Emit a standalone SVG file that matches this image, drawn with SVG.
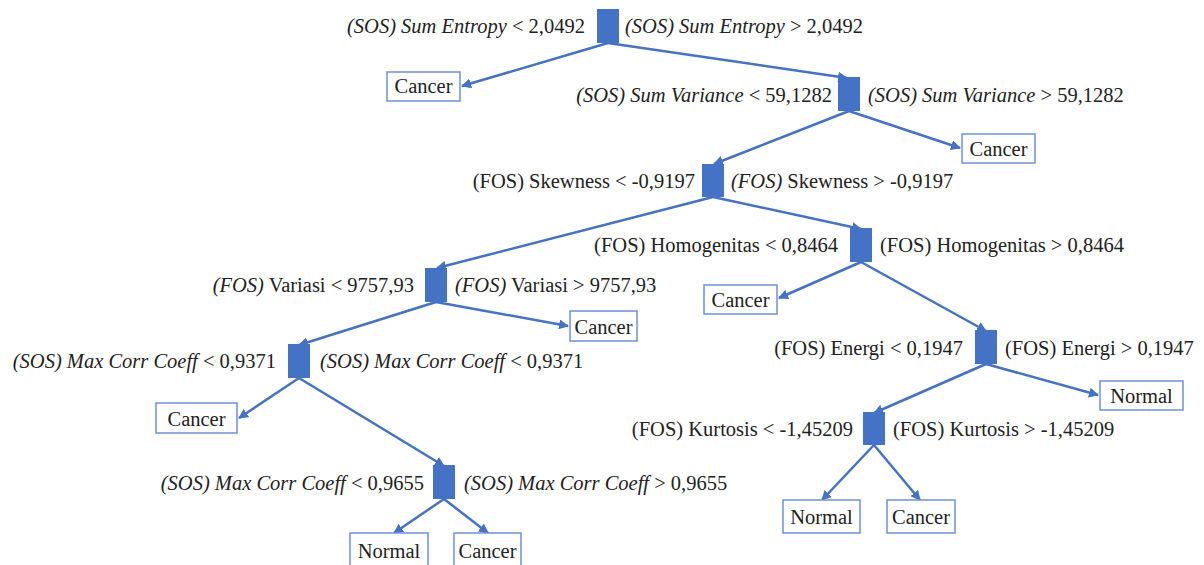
<svg xmlns="http://www.w3.org/2000/svg" width="1204" height="565" viewBox="0 0 1204 565">
<defs>
<marker id="ah" viewBox="0 0 10 10" refX="9" refY="5" markerWidth="4" markerHeight="4" orient="auto" markerUnits="strokeWidth">
<path d="M0,0 L10,5 L0,10 z" fill="#4472C4"/>
</marker>
<style>
.sq{fill:#4472C4}
.bx{fill:#fff;stroke:#6D93D6;stroke-width:1.5}
.t{font-family:"Times New Roman","Liberation Serif","DejaVu Serif",serif;font-size:20.5px;fill:#222}
.i{font-style:italic}
.c{stroke:#4472C4;stroke-width:2.5;fill:none;marker-end:url(#ah)}
</style>
</defs>
<rect width="1204" height="565" fill="#fff"/>
<g id="connectors">
<line class="c" x1="608" y1="43" x2="462" y2="86"/>
<line class="c" x1="608" y1="43" x2="847" y2="78"/>
<line class="c" x1="849" y1="111" x2="714" y2="164"/>
<line class="c" x1="849" y1="111" x2="960" y2="148"/>
<line class="c" x1="713" y1="197" x2="437" y2="268"/>
<line class="c" x1="713" y1="197" x2="861" y2="229"/>
<line class="c" x1="861" y1="262" x2="779" y2="298"/>
<line class="c" x1="861" y1="262" x2="986" y2="331"/>
<line class="c" x1="436" y1="302" x2="299" y2="345"/>
<line class="c" x1="436" y1="302" x2="568" y2="326"/>
<line class="c" x1="986" y1="364" x2="874" y2="413"/>
<line class="c" x1="986" y1="364" x2="1098" y2="395"/>
<line class="c" x1="299" y1="378" x2="239" y2="418"/>
<line class="c" x1="299" y1="378" x2="444" y2="466"/>
<line class="c" x1="444" y1="499" x2="394" y2="533"/>
<line class="c" x1="444" y1="499" x2="488" y2="533"/>
<line class="c" x1="874" y1="445" x2="822" y2="500"/>
<line class="c" x1="874" y1="445" x2="920" y2="500"/>
</g>
<g id="n-sumentropy">
<rect class="sq" x="597" y="9" width="22" height="34"/>
<text class="t" x="585" y="33" text-anchor="end"><tspan class="i">(SOS) Sum Entropy</tspan> &lt; 2,0492</text>
<text class="t" x="625" y="33"><tspan class="i">(SOS) Sum Entropy</tspan> &gt; 2,0492</text>
</g>
<g id="n-cancer1">
<rect class="bx" x="387" y="72" width="73" height="29"/>
<text class="t" x="423.5" y="93" text-anchor="middle">Cancer</text>
</g>
<g id="n-sumvariance">
<rect class="sq" x="838" y="77" width="22" height="34"/>
<text class="t" x="832" y="102" text-anchor="end"><tspan class="i">(SOS) Sum Variance</tspan> &lt; 59,1282</text>
<text class="t" x="868" y="102"><tspan class="i">(SOS) Sum Variance</tspan> &gt; 59,1282</text>
</g>
<g id="n-cancer2">
<rect class="bx" x="962" y="134" width="73" height="29"/>
<text class="t" x="998.5" y="156" text-anchor="middle">Cancer</text>
</g>
<g id="n-skewness">
<rect class="sq" x="702" y="164" width="22" height="33"/>
<text class="t" x="695" y="188" text-anchor="end">(FOS) Skewness &lt; -0,9197</text>
<text class="t" x="731" y="188"><tspan class="i">(FOS)</tspan> Skewness &gt; -0,9197</text>
</g>
<g id="n-homogenitas">
<rect class="sq" x="850" y="228" width="22" height="34"/>
<text class="t" x="838" y="252" text-anchor="end">(FOS) Homogenitas &lt; 0,8464</text>
<text class="t" x="880" y="252">(FOS) Homogenitas &gt; 0,8464</text>
</g>
<g id="n-cancer3">
<rect class="bx" x="704" y="285" width="73" height="29"/>
<text class="t" x="740.5" y="307" text-anchor="middle">Cancer</text>
</g>
<g id="n-variasi">
<rect class="sq" x="425" y="268" width="22" height="34"/>
<text class="t" x="414" y="292" text-anchor="end"><tspan class="i">(FOS)</tspan> Variasi &lt; 9757,93</text>
<text class="t" x="455" y="292"><tspan class="i">(FOS)</tspan> Variasi &gt; 9757,93</text>
</g>
<g id="n-cancer4">
<rect class="bx" x="570" y="311" width="67" height="30"/>
<text class="t" x="603.5" y="334" text-anchor="middle">Cancer</text>
</g>
<g id="n-energi">
<rect class="sq" x="975" y="330" width="22" height="34"/>
<text class="t" x="963" y="355" text-anchor="end">(FOS) Energi &lt; 0,1947</text>
<text class="t" x="1005" y="355">(FOS) Energi &gt; 0,1947</text>
</g>
<g id="n-normal1">
<rect class="bx" x="1100" y="381" width="83" height="29"/>
<text class="t" x="1141.5" y="403" text-anchor="middle">Normal</text>
</g>
<g id="n-maxcorr1">
<rect class="sq" x="288" y="344" width="22" height="34"/>
<text class="t" x="276" y="368" text-anchor="end"><tspan class="i">(SOS) Max Corr Coeff</tspan> &lt; 0,9371</text>
<text class="t" x="320" y="368"><tspan class="i">(SOS) Max Corr Coeff</tspan> &lt; 0,9371</text>
</g>
<g id="n-cancer5">
<rect class="bx" x="156" y="403" width="81" height="30"/>
<text class="t" x="196.5" y="426" text-anchor="middle">Cancer</text>
</g>
<g id="n-kurtosis">
<rect class="sq" x="863" y="412" width="22" height="33"/>
<text class="t" x="853" y="436" text-anchor="end">(FOS) Kurtosis &lt; -1,45209</text>
<text class="t" x="893" y="436">(FOS) Kurtosis &gt; -1,45209</text>
</g>
<g id="n-maxcorr2">
<rect class="sq" x="433" y="465" width="22" height="34"/>
<text class="t" x="424" y="490" text-anchor="end"><tspan class="i">(SOS) Max Corr Coeff</tspan> &lt; 0,9655</text>
<text class="t" x="464" y="490"><tspan class="i">(SOS) Max Corr Coeff</tspan> &gt; 0,9655</text>
</g>
<g id="n-normal2">
<rect class="bx" x="350" y="533" width="78" height="40"/>
<text class="t" x="389" y="558" text-anchor="middle">Normal</text>
</g>
<g id="n-cancer6">
<rect class="bx" x="454" y="533" width="67" height="40"/>
<text class="t" x="487.5" y="558" text-anchor="middle">Cancer</text>
</g>
<g id="n-normal3">
<rect class="bx" x="783" y="500" width="77" height="33"/>
<text class="t" x="821.5" y="524" text-anchor="middle">Normal</text>
</g>
<g id="n-cancer7">
<rect class="bx" x="887" y="500" width="68" height="33"/>
<text class="t" x="921" y="524" text-anchor="middle">Cancer</text>
</g>
</svg>
